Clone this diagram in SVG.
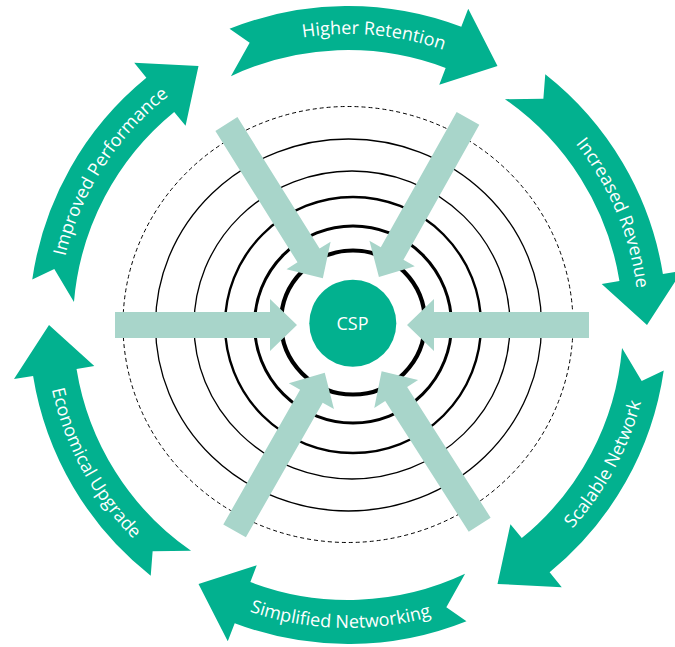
<svg xmlns="http://www.w3.org/2000/svg" xmlns:xlink="http://www.w3.org/1999/xlink" width="675" height="647" viewBox="0 0 675 647">
  <style>
    .ring { fill: #02b18f; }
    .lbl { fill: #ffffff; font-family: "Open Sans", "Noto Sans", sans-serif; font-size: 18px; }
    .circ { fill: none; stroke: #000000; }
    .inarrow { fill: #a8d5ca; }
  </style>
  <defs>
    <path id="ringArrow" d="M647,325 L682,271 L662.9,274 A319,319 0 0 0 545.27,74.31 L543.37,98.66 L504.95,99.18 A275,275 0 0 1 619.46,281.03 L601.69,283.91 Z"/>
    <path id="inArrow" d="M115,312 H270 V299 L297,325 L270,351 V338 H115 Z"/>
    <path id="tpHR" d="M181.50,86.34 A291,291 0 0 1 554.13,119.59"/>
    <path id="tpIR" d="M480.56,65.95 A291,291 0 0 1 626.13,410.57"/>
    <path id="tpIP" d="M59.30,361.47 A291,291 0 0 1 261.95,47.01"/>
    <path id="tpEU" d="M50.98,265.11 A303,303 0 0 0 237.44,607.11"/>
    <path id="tpSN" d="M459.05,606.92 A303,303 0 0 0 644.92,264.59"/>
    <path id="tpSimN" d="M147.23,551.94 A303,303 0 0 0 536.62,562.13"/>
  </defs>

  <g id="rings">
    <ellipse class="circ" cx="348" cy="324.5" rx="225" ry="218" stroke-width="1" stroke-dasharray="4 3"/>
    <ellipse class="circ" cx="348.5" cy="325" rx="193" ry="186" stroke-width="1.3"/>
    <ellipse class="circ" cx="352" cy="325" rx="158" ry="154" stroke-width="1.3"/>
    <circle class="circ" cx="353" cy="325" r="128" stroke-width="2.4"/>
    <circle class="circ" cx="353" cy="324.5" r="98.5" stroke-width="3"/>
    <circle class="circ" cx="353" cy="322.5" r="72" stroke-width="4.2"/>
  </g>

  <g id="connectors">
    <use xlink:href="#inArrow" class="inarrow"/>
    <use xlink:href="#inArrow" class="inarrow" transform="rotate(58 352 325)"/>
    <use xlink:href="#inArrow" class="inarrow" transform="rotate(119.3 352 325)"/>
    <use xlink:href="#inArrow" class="inarrow" transform="rotate(180 352 325)"/>
    <use xlink:href="#inArrow" class="inarrow" transform="rotate(237.4 352 325)"/>
    <use xlink:href="#inArrow" class="inarrow" transform="rotate(299.7 352 325)"/>
  </g>

  <g id="csp">
    <circle cx="352.8" cy="323.3" r="43.5" fill="#02b18f"/>
    <text x="352.5" y="329.8" text-anchor="middle" class="lbl">CSP</text>
  </g>

  <g id="higher-retention">
    <use xlink:href="#ringArrow" class="ring" transform="rotate(-60 348 325)"/>
    <text class="lbl"><textPath xlink:href="#tpHR" startOffset="50%" text-anchor="middle">Higher Retention</textPath></text>
  </g>
  <g id="increased-revenue">
    <use xlink:href="#ringArrow" class="ring"/>
    <text class="lbl"><textPath xlink:href="#tpIR" startOffset="50%" text-anchor="middle">Increased Revenue</textPath></text>
  </g>
  <g id="scalable-network">
    <use xlink:href="#ringArrow" class="ring" transform="rotate(60 348 325)"/>
    <text class="lbl"><textPath xlink:href="#tpSN" startOffset="50%" text-anchor="middle">Scalable Network</textPath></text>
  </g>
  <g id="simplified-networking">
    <use xlink:href="#ringArrow" class="ring" transform="rotate(120 348 325)"/>
    <text class="lbl"><textPath xlink:href="#tpSimN" startOffset="50%" text-anchor="middle">Simplified Networking</textPath></text>
  </g>
  <g id="economical-upgrade">
    <use xlink:href="#ringArrow" class="ring" transform="rotate(180 348 325)"/>
    <text class="lbl"><textPath xlink:href="#tpEU" startOffset="50%" text-anchor="middle">Economical Upgrade</textPath></text>
  </g>
  <g id="improved-performance">
    <use xlink:href="#ringArrow" class="ring" transform="rotate(240 348 325)"/>
    <text class="lbl"><textPath xlink:href="#tpIP" startOffset="50%" text-anchor="middle">Improved Performance</textPath></text>
  </g>
</svg>
